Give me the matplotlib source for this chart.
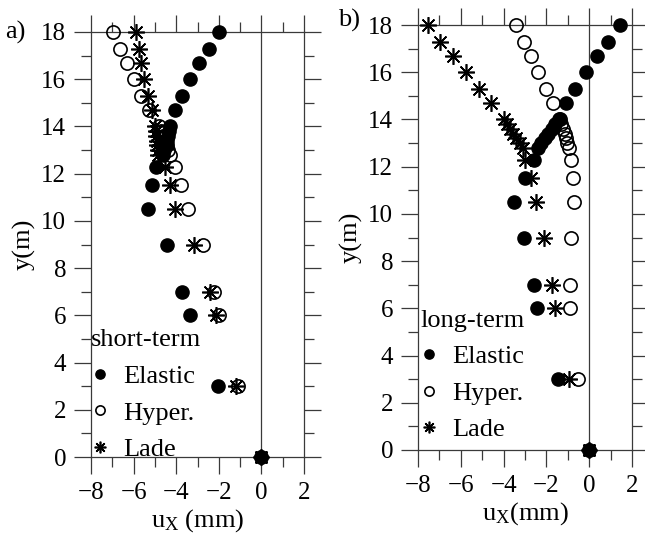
import matplotlib
matplotlib.use('Agg')
import matplotlib.pyplot as plt
from matplotlib.ticker import MultipleLocator

plt.rcParams['font.family'] = ['Liberation Serif', 'DejaVu Serif']
plt.rcParams['mathtext.fontset'] = 'custom'
plt.rcParams['mathtext.rm'] = 'Liberation Serif'
plt.rcParams['mathtext.it'] = 'Liberation Serif:italic'

# depth of each output point (m)
depth = [18.0, 17.3, 16.7, 16.0, 15.3, 14.7, 14.0, 13.8, 13.6, 13.4, 13.2, 13.0,
         12.8, 12.3, 11.5, 10.5, 9.0, 7.0, 6.0, 3.0, 0.0]

# a) short-term horizontal displacement (mm)
short_elastic = [-2.0, -2.47, -2.94, -3.37, -3.72, -4.04, -4.3, -4.35, -4.4, -4.45,
                 -4.5, -4.55, -4.6, -4.94, -5.13, -5.34, -4.43, -3.72, -3.37, -2.03, 0.0]
short_hyper = [-6.98, -6.65, -6.31, -6.0, -5.65, -5.29, -4.8, -4.7, -4.6, -4.5,
               -4.45, -4.4, -4.3, -4.04, -3.77, -3.44, -2.75, -2.21, -2.0, -1.09, 0.0]
short_lade = [-5.88, -5.76, -5.65, -5.49, -5.34, -5.13, -5.0, -4.97, -4.95, -4.92,
              -4.9, -4.87, -4.85, -4.51, -4.3, -4.04, -3.15, -2.43, -2.11, -1.17, 0.0]

# b) long-term horizontal displacement (mm)
long_elastic = [1.45, 0.9, 0.36, -0.15, -0.65, -1.07, -1.43, -1.58, -1.75, -1.92,
                -2.08, -2.25, -2.4, -2.57, -2.99, -3.5, -3.07, -2.6, -2.42, -1.47, 0.0]
long_hyper = [-3.43, -3.07, -2.73, -2.4, -2.02, -1.67, -1.36, -1.3, -1.22, -1.15,
              -1.08, -1.02, -0.96, -0.86, -0.78, -0.73, -0.86, -0.89, -0.89, -0.53, 0.0]
long_lade = [-7.55, -6.96, -6.37, -5.75, -5.17, -4.6, -4.0, -3.85, -3.7, -3.55,
             -3.4, -3.25, -3.1, -2.99, -2.71, -2.49, -2.1, -1.74, -1.59, -0.93, 0.0]

series_labels = ['Elastic', 'Hyper.', 'Lade']
x_ticks = [-8, -6, -4, -2, 0, 2]
y_ticks = [0, 2, 4, 6, 8, 10, 12, 14, 16, 18]

FS = 18
LC = '#3a3a3a'

fig = plt.figure(figsize=(6.45, 5.4), dpi=100)
axa = fig.add_axes([91/645, 1-457/540, 213/645, 425/540])
axb = fig.add_axes([418/645, 1-450/540, 214/645, 425/540])


def style(ax):
    ax.set_xlim(-8, 2)
    ax.set_ylim(0, 18)
    ax.set_xticks(x_ticks)
    ax.set_yticks(y_ticks)
    ax.xaxis.set_minor_locator(MultipleLocator(1))
    ax.yaxis.set_minor_locator(MultipleLocator(1))
    ax.tick_params(which='both', direction='out', top=True, right=True,
                   labeltop=False, labelright=False, color=LC, width=0.9,
                   labelsize=FS, pad=6)
    ax.tick_params(which='major', length=12)
    ax.tick_params(which='minor', length=7)
    for s in ax.spines.values():
        s.set_color(LC)
        s.set_linewidth(0.9)
    ax.axvline(0, color=LC, lw=0.9, zorder=1)


def plot_set(ax, el, hy, la, title, anchor, xlabel):
    style(ax)
    ax.plot(el, depth, 'o', ms=9.5, color='black', label=series_labels[0],
            clip_on=False, zorder=3)
    ax.plot(hy, depth, 'o', ms=9.5, mfc='none', mec='black', mew=1.2,
            label=series_labels[1], clip_on=False, zorder=3)
    ax.plot(la, depth, ls='none', marker=(8, 2, 0), ms=12, color='black', mew=1.2,
            label=series_labels[2], clip_on=False, zorder=4)
    ax.legend(title=title, loc='lower left', bbox_to_anchor=anchor,
              frameon=False, alignment='left', fontsize=FS + 1,
              title_fontsize=FS + 1, markerscale=0.7, handlelength=0.7,
              handletextpad=0.52, labelspacing=0.5, borderpad=0,
              borderaxespad=0)
    ax.set_xlabel(xlabel, fontsize=FS + 1, labelpad=2)
    ax.set_ylabel('y(m)', fontsize=FS + 1, labelpad=4)


plot_set(axa, short_elastic, short_hyper, short_lade, 'short-term', (0.0, -0.01),
         r'u$_\mathrm{X}$ (mm)')
plot_set(axb, long_elastic, long_hyper, long_lade, 'long-term', (0.01, 0.02),
         r'u$_\mathrm{X}$(mm)')

fig.text(5/645, 1-32/540, 'a)', fontsize=FS + 1, ha='left', va='center')
fig.text(338/645, 1-20/540, 'b)', fontsize=FS + 1, ha='left', va='center')

fig.savefig('out.png', dpi=100, facecolor='white')
